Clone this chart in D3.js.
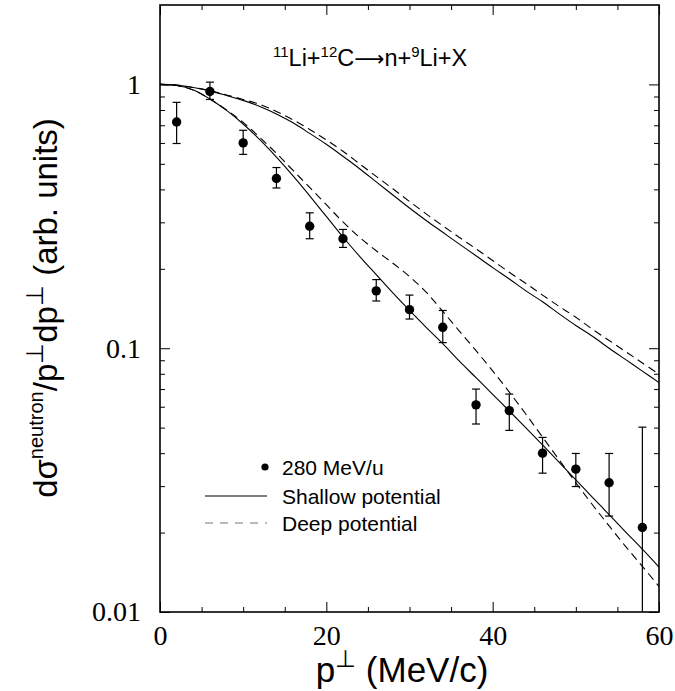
<!DOCTYPE html>
<html>
<head>
<meta charset="utf-8">
<script src="https://cdn.jsdelivr.net/npm/d3@7"></script>
<style>
  html, body { margin: 0; padding: 0; background: #fff; }
  svg { display: block; }
</style>
</head>
<body>
<svg id="chart" width="675" height="691"></svg>
<script>
// Transverse momentum grid for the model curves (MeV/c)
const curveP = [0, 2, 4, 6, 8, 10, 12, 14, 16, 18, 20, 22, 24, 26, 28, 30,
                32, 34, 36, 38, 40, 42, 44, 46, 48, 50, 52, 54, 56, 58, 60];

// Model curves, normalised to 1 at p = 0
const shallowNarrow = [1.000, 0.990, 0.953, 0.881, 0.797, 0.708, 0.617, 0.530, 0.450, 0.378, 0.316,
                       0.264, 0.223, 0.190, 0.162, 0.139, 0.120, 0.104, 0.0893, 0.0773, 0.0668,
                       0.0578, 0.0499, 0.0430, 0.0369, 0.0317, 0.0272, 0.0234, 0.0201, 0.0173, 0.0148];
const deepNarrow    = [1.000, 0.990, 0.953, 0.881, 0.800, 0.718, 0.630, 0.548, 0.472, 0.407, 0.350,
                       0.301, 0.263, 0.234, 0.210, 0.187, 0.163, 0.138, 0.116, 0.0979, 0.0820,
                       0.0682, 0.0562, 0.0460, 0.0377, 0.0309, 0.0255, 0.0212, 0.0177, 0.0149, 0.0125];
const shallowWide   = [1.000, 0.994, 0.974, 0.945, 0.908, 0.870, 0.825, 0.773, 0.715, 0.652, 0.593,
                       0.534, 0.479, 0.427, 0.381, 0.340, 0.305, 0.275, 0.248, 0.224, 0.202,
                       0.183, 0.165, 0.150, 0.135, 0.122, 0.111, 0.100, 0.0905, 0.0819, 0.0741];
const deepWide      = [1.000, 0.994, 0.974, 0.947, 0.912, 0.877, 0.840, 0.790, 0.734, 0.675, 0.616,
                       0.558, 0.500, 0.448, 0.402, 0.360, 0.323, 0.291, 0.263, 0.238, 0.215,
                       0.194, 0.176, 0.159, 0.144, 0.131, 0.118, 0.107, 0.0970, 0.0879, 0.0797];

// Measured neutron distribution, 280 MeV/u
const dataP  = [2, 6, 10, 14, 18, 22, 26, 30, 34, 38, 42, 46, 50, 54, 58];
const dataV  = [0.72, 0.94, 0.60, 0.44, 0.29, 0.26, 0.165, 0.140, 0.120, 0.061, 0.058, 0.040, 0.0348, 0.0309, 0.0209];
const dataLo = [0.597, 0.877, 0.543, 0.405, 0.260, 0.241, 0.151, 0.129, 0.105, 0.0516, 0.0488, 0.0336, 0.0299, 0.0231, 0.0100];
const dataHi = [0.855, 1.02, 0.67, 0.484, 0.326, 0.282, 0.182, 0.159, 0.139, 0.070, 0.067, 0.0459, 0.0399, 0.0399, 0.0502];

// Axis ticks
const xMajorTicks = [0, 20, 40, 60];
const xMinorTicks = [5, 10, 15, 25, 30, 35, 45, 50, 55];
const yMajorTicks = [0.01, 0.1, 1];
const yMajorLabels = ["0.01", "0.1", "1"];
const yMinorTicks = [0.02, 0.03, 0.04, 0.05, 0.06, 0.07, 0.08, 0.09, 0.2, 0.3, 0.4, 0.5, 0.6, 0.7, 0.8, 0.9];

const legendLabels = ["280 MeV/u", "Shallow potential", "Deep potential"];

const plot = { left: 160, right: 659, top: 5, bottom: 612 };

const svg = d3.select("#chart");

const x = d3.scaleLinear().domain([0, 60]).range([plot.left, plot.right]);
const y = d3.scaleLog().domain([0.01, 2]).range([plot.bottom, plot.top]);

const serif = "'Liberation Serif', 'Times New Roman', serif";
const sans = "'Liberation Sans', Arial, Helvetica, sans-serif";

svg.append("defs").append("clipPath").attr("id", "plotClip")
  .append("rect")
  .attr("x", plot.left).attr("y", plot.top)
  .attr("width", plot.right - plot.left).attr("height", plot.bottom - plot.top);

// ---- axes (ticks point inward on all four sides) ----
function styleAxis(g) {
  g.select(".domain").remove();
  g.selectAll(".tick line").attr("stroke", "#000").attr("stroke-width", 1);
}

const yFmt = d => yMajorLabels[yMajorTicks.indexOf(d)];

svg.append("g").attr("transform", `translate(0,${plot.bottom})`)
  .call(d3.axisBottom(x).tickValues(xMinorTicks).tickSize(-5).tickFormat(""))
  .call(styleAxis);
svg.append("g").attr("transform", `translate(0,${plot.bottom})`)
  .call(d3.axisBottom(x).tickValues(xMajorTicks).tickSize(-10).tickPadding(13).tickFormat(d3.format("d")))
  .call(styleAxis)
  .call(g => g.selectAll("text").attr("font-family", serif).attr("font-size", 28).attr("fill", "#000"));

svg.append("g").attr("transform", `translate(0,${plot.top})`)
  .call(d3.axisTop(x).tickValues(xMinorTicks).tickSize(-5).tickFormat(""))
  .call(styleAxis);
svg.append("g").attr("transform", `translate(0,${plot.top})`)
  .call(d3.axisTop(x).tickValues(xMajorTicks).tickSize(-10).tickFormat(""))
  .call(styleAxis);

svg.append("g").attr("transform", `translate(${plot.left},0)`)
  .call(d3.axisLeft(y).tickValues(yMinorTicks).tickSize(-5).tickFormat(""))
  .call(styleAxis);
svg.append("g").attr("transform", `translate(${plot.left},0)`)
  .call(d3.axisLeft(y).tickValues(yMajorTicks).tickSize(-10).tickPadding(19).tickFormat(yFmt))
  .call(styleAxis)
  .call(g => g.selectAll("text").attr("font-family", serif).attr("font-size", 28).attr("fill", "#000"));

svg.append("g").attr("transform", `translate(${plot.right},0)`)
  .call(d3.axisRight(y).tickValues(yMinorTicks).tickSize(-5).tickFormat(""))
  .call(styleAxis);
svg.append("g").attr("transform", `translate(${plot.right},0)`)
  .call(d3.axisRight(y).tickValues(yMajorTicks).tickSize(-10).tickFormat(""))
  .call(styleAxis);

// frame
svg.append("rect")
  .attr("x", plot.left).attr("y", plot.top)
  .attr("width", plot.right - plot.left).attr("height", plot.bottom - plot.top)
  .attr("fill", "none").attr("stroke", "#000").attr("stroke-width", 1.6);

// ---- model curves ----
const line = d3.line()
  .x((d, i) => x(curveP[i]))
  .y(d => y(d))
  .curve(d3.curveCatmullRom);

const curves = svg.append("g").attr("clip-path", "url(#plotClip)");
[
  { v: shallowWide, dash: null },
  { v: deepWide, dash: "8,5" },
  { v: shallowNarrow, dash: null },
  { v: deepNarrow, dash: "8,5" }
].forEach(c => {
  curves.append("path")
    .attr("d", line(c.v))
    .attr("fill", "none")
    .attr("stroke", "#000")
    .attr("stroke-width", 1.1)
    .attr("stroke-dasharray", c.dash);
});

// ---- data points with error bars ----
const pts = svg.append("g").attr("clip-path", "url(#plotClip)");
const capHalf = 4;
dataP.forEach((p, i) => {
  const cx = x(p);
  pts.append("line")
    .attr("x1", cx).attr("x2", cx)
    .attr("y1", y(dataLo[i])).attr("y2", y(dataHi[i]))
    .attr("stroke", "#000").attr("stroke-width", 1.2);
  [dataLo[i], dataHi[i]].forEach(v => {
    if (v > 0.0101) {
      pts.append("line")
        .attr("x1", cx - capHalf).attr("x2", cx + capHalf)
        .attr("y1", y(v)).attr("y2", y(v))
        .attr("stroke", "#000").attr("stroke-width", 1.2);
    }
  });
  pts.append("circle")
    .attr("cx", cx).attr("cy", y(dataV[i])).attr("r", 4.7)
    .attr("fill", "#000");
});

// ---- reaction label ----
const title = svg.append("text")
  .attr("x", 273).attr("y", 66)
  .attr("font-family", sans).attr("font-size", 23.5).attr("fill", "#000");
const supSize = 15, supRise = 9.5;
title.append("tspan").attr("font-size", supSize).attr("dy", -supRise).text("11");
title.append("tspan").attr("dy", supRise).text("Li+");
title.append("tspan").attr("font-size", supSize).attr("dy", -supRise).text("12");
title.append("tspan").attr("dy", supRise).text("C");
title.append("tspan").attr("font-family", "'DejaVu Sans', sans-serif").attr("font-size", 21).text("\u27F6");
title.append("tspan").text("n+");
title.append("tspan").attr("font-size", supSize).attr("dy", -supRise).text("9");
title.append("tspan").attr("dy", supRise).text("Li+X");

// ---- legend ----
const lg = svg.append("g").attr("font-family", sans).attr("font-size", 21).attr("fill", "#000");
const legendRows = [467, 496, 523];
lg.append("circle").attr("cx", 265).attr("cy", legendRows[0]).attr("r", 3.6).attr("fill", "#000");
lg.append("line").attr("x1", 205).attr("x2", 267).attr("y1", legendRows[1]).attr("y2", legendRows[1])
  .attr("stroke", "#000").attr("stroke-width", 1.1);
lg.append("line").attr("x1", 205).attr("x2", 267).attr("y1", legendRows[2]).attr("y2", legendRows[2])
  .attr("stroke", "#777").attr("stroke-width", 1.1).attr("stroke-dasharray", "8,7");
legendLabels.forEach((t, i) => {
  lg.append("text").attr("x", 282).attr("y", legendRows[i]).attr("dy", "0.36em").text(t);
});

// ---- axis titles ----
const xt = svg.append("text")
  .attr("x", 402).attr("y", 682)
  .attr("text-anchor", "middle")
  .attr("font-family", sans).attr("font-size", 35).attr("fill", "#000");
xt.append("tspan").text("p");
xt.append("tspan").attr("font-size", 24).attr("dy", -15).text("\u22A5");
xt.append("tspan").attr("dy", 15).text(" (MeV/c)");

const yt = svg.append("text")
  .attr("transform", "translate(57,308) rotate(-90)")
  .attr("text-anchor", "middle")
  .attr("font-family", sans).attr("font-size", 33).attr("fill", "#000");
yt.append("tspan").text("d\u03C3");
yt.append("tspan").attr("font-size", 20).attr("dy", -14).text("neutron");
yt.append("tspan").attr("dy", 14).text("/p");
yt.append("tspan").attr("font-size", 24).attr("dy", -14).text("\u22A5");
yt.append("tspan").attr("dy", 14).text("dp");
yt.append("tspan").attr("font-size", 24).attr("dy", -14).text("\u22A5");
yt.append("tspan").attr("dy", 14).text(" (arb. units)");
</script>
</body>
</html>
